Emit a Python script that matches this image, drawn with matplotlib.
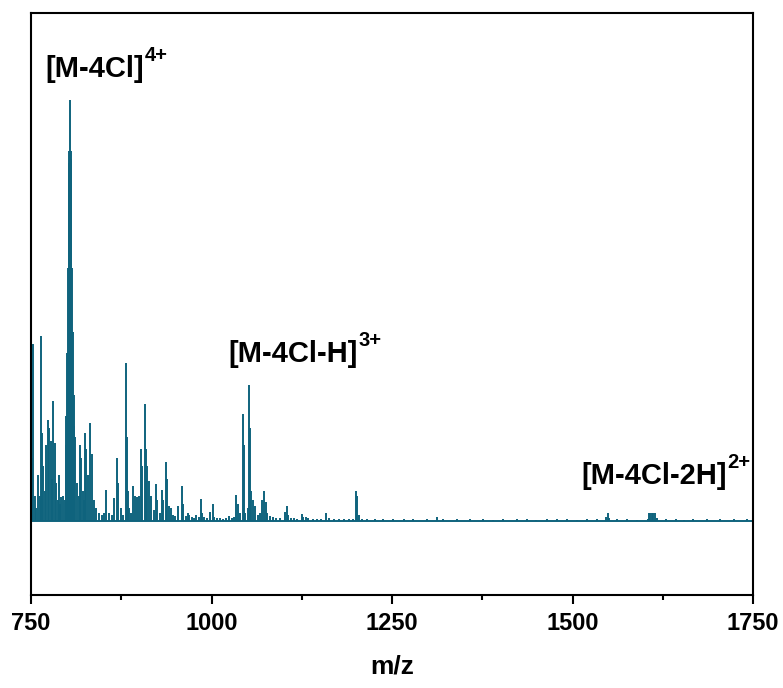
import matplotlib
matplotlib.use("Agg")
import matplotlib.pyplot as plt
from matplotlib.ticker import MultipleLocator
from matplotlib.transforms import offset_copy

plt.rcParams['font.family'] = ['Liberation Sans', 'DejaVu Sans']

# Peak centroids (m/z) and relative intensities
peak_mz = [
    750.5, 751.5, 753.2, 755, 757, 760, 762, 763.4, 765, 767, 769, 770.8, 773, 775.3,
    777.7, 779.5, 781, 782.8, 785, 787, 788.8, 790.5, 792, 794.3, 796.5,
    798, 799, 800, 801, 802, 803, 804, 805, 806, 807, 808, 809, 810, 811,
    813.7, 816, 817.9, 819.5, 821.5, 823.5, 825.2, 826.5, 829, 832, 834.5, 837, 840,
    844, 848, 851, 854, 858, 862, 865.4, 869, 870.5, 874, 878, 881.1, 882.5, 884, 886,
    889, 891.3, 894, 897.2, 899, 902.8, 904, 907.5, 909, 910.5, 913.9, 916.5, 920,
    923.6, 925, 928, 931, 932.5, 937, 938.5, 941, 944, 947, 950, 954, 959, 960.5,
    964, 967, 969, 973, 976, 979, 982, 985, 986.7, 990, 994, 997.5, 1001.6, 1004,
    1008, 1012, 1016, 1020, 1024.7, 1028, 1031, 1034.4, 1036.5, 1040, 1043.6, 1045,
    1047, 1050, 1052.4, 1053.7, 1055.4, 1057.5, 1060, 1064, 1067, 1070, 1073, 1075,
    1077, 1081, 1085, 1090, 1095, 1101.8, 1104, 1106, 1110, 1114, 1119, 1125, 1127,
    1131, 1134, 1140, 1146, 1152, 1158.6, 1163, 1170, 1177, 1184, 1190, 1196, 1200,
    1202, 1204, 1208, 1215, 1226, 1238, 1252, 1266, 1279, 1298, 1312, 1321, 1340,
    1358, 1376, 1390, 1404, 1423, 1437, 1450, 1464, 1478, 1492, 1506, 1520, 1534,
    1547, 1548.8, 1551, 1561, 1575, 1590, 1604, 1606, 1608, 1610, 1612, 1614, 1617,
    1630, 1644, 1655, 1667, 1686, 1704, 1723, 1741,
]
peak_int = [
    0.17, 0.15, 0.42, 0.06, 0.03, 0.11, 0.06, 0.44, 0.21, 0.13, 0.07, 0.18, 0.24, 0.22,
    0.19, 0.10, 0.285, 0.185, 0.09, 0.05, 0.11, 0.04, 0.058, 0.06, 0.05,
    0.18, 0.25, 0.40, 0.60, 0.85, 0.88, 1.00, 0.88, 0.86, 0.60, 0.45, 0.30, 0.225, 0.20,
    0.09, 0.06, 0.18, 0.15, 0.07, 0.05, 0.21, 0.17, 0.11, 0.232, 0.16, 0.05, 0.03,
    0.02, 0.015, 0.02, 0.074, 0.02, 0.015, 0.055, 0.15, 0.09, 0.03, 0.015, 0.375, 0.20, 0.07, 0.03,
    0.02, 0.084, 0.06, 0.057, 0.06, 0.17, 0.13, 0.278, 0.17, 0.13, 0.096, 0.06, 0.025,
    0.088, 0.05, 0.02, 0.074, 0.05, 0.14, 0.10, 0.035, 0.03, 0.015, 0.012, 0.036, 0.083, 0.04,
    0.012, 0.02, 0.015, 0.01, 0.008, 0.015, 0.01, 0.052, 0.02, 0.01, 0.008, 0.022, 0.04, 0.01,
    0.006, 0.006, 0.005, 0.007, 0.012, 0.008, 0.01, 0.062, 0.04, 0.02, 0.253, 0.18,
    0.02, 0.03, 0.323, 0.22, 0.07, 0.05, 0.035, 0.015, 0.02, 0.05, 0.07, 0.045,
    0.02, 0.012, 0.01, 0.008, 0.006, 0.022, 0.036, 0.013, 0.006, 0.007, 0.005, 0.017, 0.01,
    0.01, 0.008, 0.005, 0.004, 0.005, 0.019, 0.006, 0.004, 0.005, 0.004, 0.004, 0.005, 0.07,
    0.06, 0.015, 0.005, 0.005, 0.004, 0.005, 0.005, 0.004, 0.005, 0.005, 0.009, 0.005, 0.004,
    0.004, 0.005, 0.003, 0.004, 0.005, 0.004, 0.003, 0.004, 0.004, 0.005, 0.003, 0.004, 0.004,
    0.01, 0.018, 0.008, 0.004, 0.005, 0.003, 0.005, 0.02, 0.02, 0.019, 0.02, 0.018, 0.006,
    0.005, 0.004, 0.003, 0.005, 0.004, 0.005, 0.004, 0.005,
]

xlim = (750, 1750)
ylim = (-0.176, 1.207)
xticks = [750, 1000, 1250, 1500, 1750]

label_main = ['[M-4Cl]', '[M-4Cl-H]', '[M-4Cl-2H]']
label_sup = ['4+', '3+', '2+']
label_mz = [769.4, 1022.8, 1511.8]
label_y = [1.055, 0.378, 0.088]

color = '#0f637d'

fig = plt.figure(figsize=(7.83, 6.88), dpi=100)
ax = fig.add_axes([31 / 783, 1 - 595 / 688, 722 / 783, 582 / 688])

ax.vlines(peak_mz, 0, peak_int, color=color, linewidth=1.4)
ax.axhline(0, color=color, linewidth=1.4)

ax.set_xlim(*xlim)
ax.set_ylim(*ylim)
ax.set_xticks(xticks)
ax.xaxis.set_minor_locator(MultipleLocator(125))
ax.set_yticks([])
ax.tick_params(axis='x', which='major', direction='out', length=6.5, width=1.5,
               labelsize=17, pad=6)
ax.tick_params(axis='x', which='minor', direction='out', length=3.5, width=1.5)
for lab in ax.get_xticklabels():
    lab.set_fontweight('bold')
for sp in ax.spines.values():
    sp.set_linewidth(1.5)

ax.set_xlabel('m/z', fontsize=19, fontweight='bold', labelpad=14)

fig.canvas.draw()
renderer = fig.canvas.get_renderer()
for main, sup, xm, ym in zip(label_main, label_sup, label_mz, label_y):
    t = ax.text(xm, ym, main, fontsize=21, fontweight='bold', ha='left', va='baseline')
    bb = t.get_window_extent(renderer=renderer)
    w_pts = bb.width * 72 / fig.dpi
    tr = offset_copy(ax.transData, fig=fig, x=w_pts + 0.5, y=11.5, units='points')
    ax.text(xm, ym, sup, fontsize=14.5, fontweight='bold', ha='left', va='baseline',
            transform=tr)

fig.savefig('out.png', dpi=100)
